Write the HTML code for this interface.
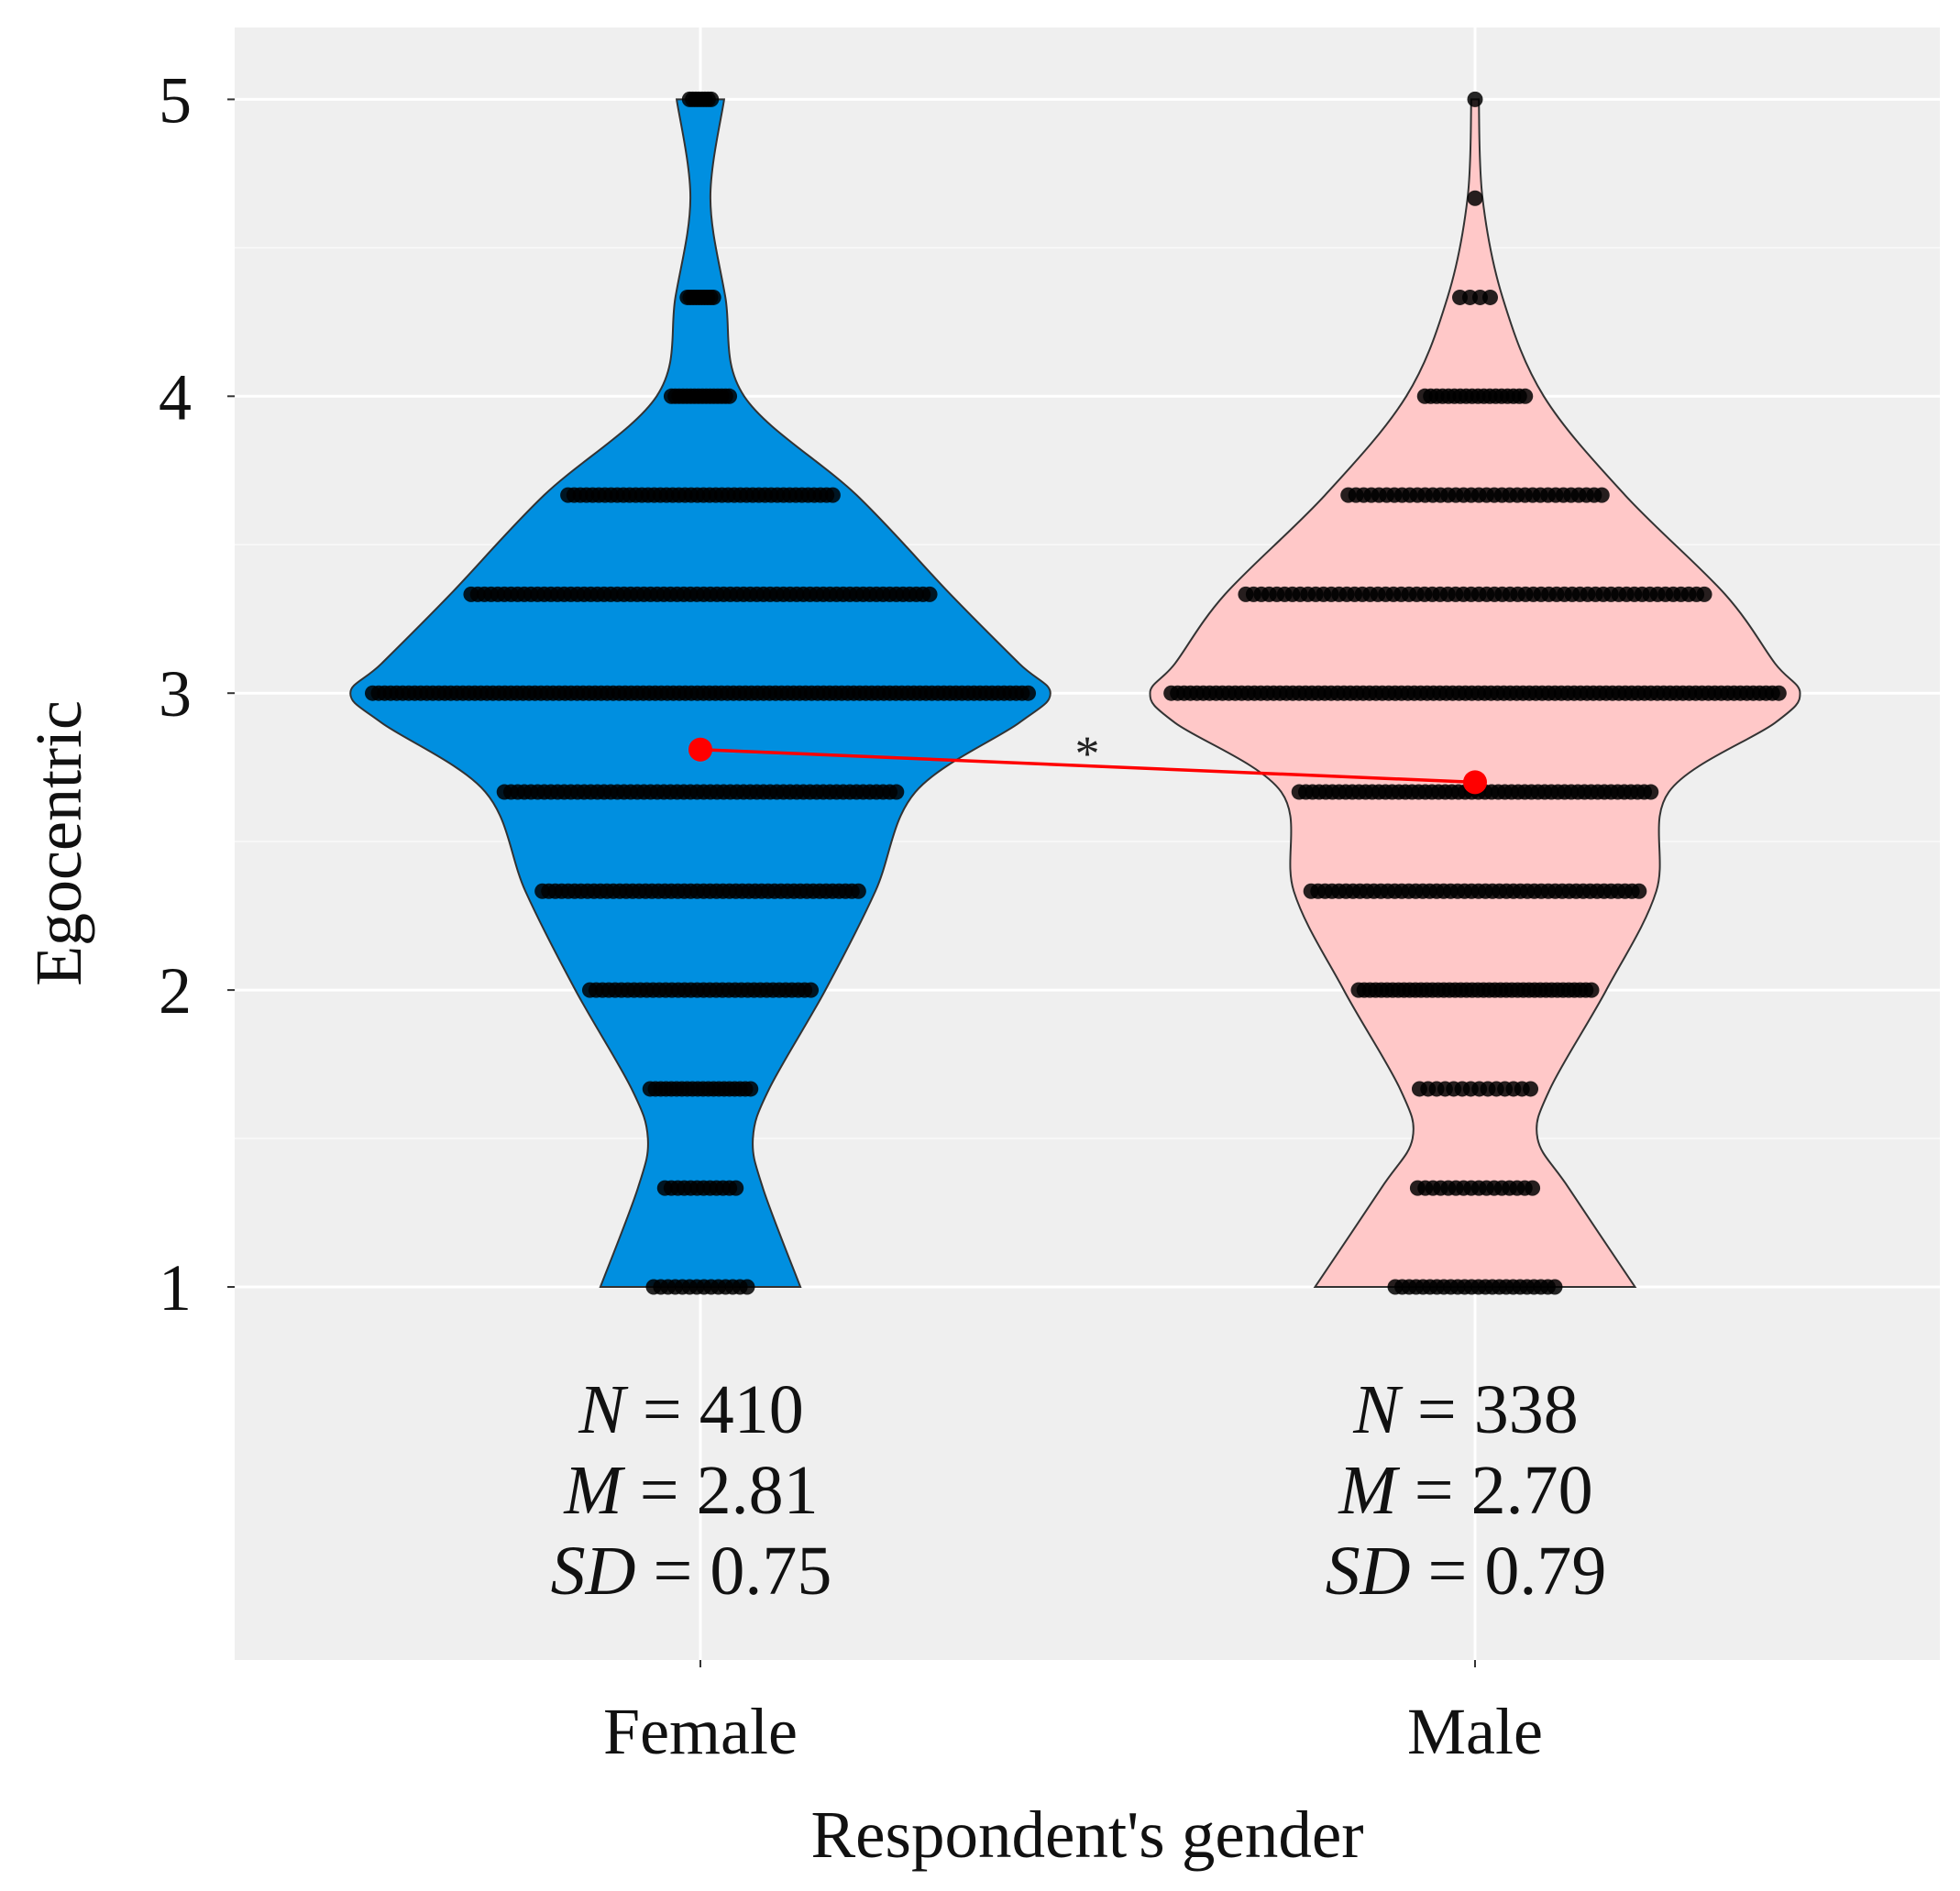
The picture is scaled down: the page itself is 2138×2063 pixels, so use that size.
<!DOCTYPE html>
<html><head><meta charset="utf-8"><style>
html,body{margin:0;padding:0;background:#fff;}
svg{display:block;font-family:"Liberation Serif",serif;}
</style></head><body>
<svg id="chart" width="2138" height="2063" viewBox="0 0 2138 2063">
<rect x="256" y="30" width="1860" height="1781" fill="#efefef"/>
<g id="grid"></g><g id="violins"></g><g id="dots"></g><g id="means"></g><g id="axes"></g>
</svg>
<script>
const categories = ["Female","Male"];
const levels = [1,1.333,1.5,1.667,2,2.333,2.667,2.9,3,3.1,3.333,3.667,4,4.333,4.667,5];
const femaleHalfWidth = [80,50,42,55,100,140,172,255,280,255,200,125,35,20,8,19];
const maleHalfWidth = [128,75,50,60,105,145,155,240,260,240,200,120,55,22,6,3];
const dotLevels = [1,1.333,1.667,2,2.333,2.667,3,3.333,3.667,4,4.333,4.667,5];
const femaleCounts = [14,12,20,36,50,60,110,70,44,16,10,0,8];
const maleCounts = [24,16,14,42,48,54,96,60,34,18,4,1,1];
const dotSpread = [0.55,0.7,0.85,0.95,0.95,0.95,0.96,0.95,0.9,0.85,0.85,0.5,0.8];
const meanValues = [2.81,2.70];
const statN = ["410","338"];
const statM = ["2.81","2.70"];
const statSD = ["0.75","0.79"];
const yTicks = [1,2,3,4,5];
const fills = ["#008fe0","#ffc8c8"];

const S = 1.3635;
const NS = "http://www.w3.org/2000/svg";
const yScale = v => 1404 - (v - 1) * 323.9;
const xScale = i => [764, 1609][i];
function mk(tag, attrs, parent){const e=document.createElementNS(NS,tag);for(const k in attrs)e.setAttribute(k,attrs[k]);document.getElementById(parent).appendChild(e);return e;}

for (let v = 1.5; v < 5; v += 1) {
  const l = mk("line",{x1:256,x2:2116,y1:yScale(v),y2:yScale(v),stroke:"#fafafa","stroke-width":1.5},"grid");
  
  
}
yTicks.forEach(v=>{
  const l = mk("line",{x1:256,x2:2116,y1:yScale(v),y2:yScale(v),stroke:"#fff","stroke-width":3},"grid");
  
  
});
categories.forEach((c,i)=>{
  const l = mk("line",{x1:xScale(i),x2:xScale(i),y1:30,y2:1811,stroke:"#fff","stroke-width":3},"grid");
  
  
});

function smoothPath(pts){
  let d = `M${pts[0][0]},${pts[0][1]}`;
  for (let i=0;i<pts.length-1;i++){
    const p0=pts[Math.max(0,i-1)],p1=pts[i],p2=pts[i+1],p3=pts[Math.min(pts.length-1,i+2)];
    const c1=[p1[0]+(p2[0]-p0[0])/6,p1[1]+(p2[1]-p0[1])/6];
    const c2=[p2[0]-(p3[0]-p1[0])/6,p2[1]-(p3[1]-p1[1])/6];
    d+=` C${c1[0]},${c1[1]} ${c2[0]},${c2[1]} ${p2[0]},${p2[1]}`;
  }
  return d;
}
[femaleHalfWidth, maleHalfWidth].forEach((hw,i)=>{
  const cx = xScale(i);
  const right = levels.map((v,k)=>[cx+hw[k]*S, yScale(v)]);
  const left = levels.map((v,k)=>[cx-hw[k]*S, yScale(v)]).reverse();
  const d = smoothPath(right) + ` L${left[0][0]},${left[0][1]} ` + smoothPath(left).replace(/^M[^C]*/,'') + " Z";
  const p = mk("path",{d:d,fill:fills[i],stroke:"#333","stroke-width":2},"violins");
  
  
});

function halfAt(hw, v){
  for (let k=0;k<levels.length-1;k++){
    if (v>=levels[k]-1e-6 && v<=levels[k+1]+1e-6){
      const t=(v-levels[k])/(levels[k+1]-levels[k]);
      return hw[k]+(hw[k+1]-hw[k])*t;
    }
  }
  return hw[hw.length-1];
}
[femaleCounts, maleCounts].forEach((counts,i)=>{
  const hw = i===0?femaleHalfWidth:maleHalfWidth;
  const cx = xScale(i);
  dotLevels.forEach((v,k)=>{
    const n = counts[k]; if(!n) return;
    const span = Math.max(6, halfAt(hw,v)*S*dotSpread[k] - 9);
    for (let j=0;j<n;j++){
      const x = n===1 ? cx : cx - span + 2*span*j/(n-1);
      const c = mk("circle",{cx:x,cy:yScale(v),r:8.5,fill:"#000","fill-opacity":0.85},"dots");
      
      
    }
  });
});

const ml = mk("line",{x1:xScale(0),y1:yScale(meanValues[0]),x2:xScale(1),y2:yScale(meanValues[1]),stroke:"#ff0000","stroke-width":3.5},"means");


meanValues.forEach((m,i)=>{
  const c = mk("circle",{cx:xScale(i),cy:yScale(m),r:13,fill:"#ff0000"},"means");
  
  
});
const ast = mk("text",{x:1186,y:840,"font-size":54,"text-anchor":"middle",fill:"#222"},"means");
ast.textContent="*";



yTicks.forEach(v=>{
  const t = mk("line",{x1:248,x2:256,y1:yScale(v),y2:yScale(v),stroke:"#333","stroke-width":2},"axes");
  
  
  const l = mk("text",{x:191,y:yScale(v)+25,"font-size":72,"text-anchor":"middle",fill:"#111"},"axes");
  l.textContent = v;
  
  
});
categories.forEach((c,i)=>{
  const t = mk("line",{x1:xScale(i),x2:xScale(i),y1:1811,y2:1819,stroke:"#333","stroke-width":2},"axes");
  
  
  const l = mk("text",{x:xScale(i),y:1913,"font-size":72,"text-anchor":"middle",fill:"#111"},"axes");
  l.textContent = c;
  
  
  const rows=[["N"," = "+statN[i]],["M"," = "+statM[i]],["SD"," = "+statSD[i]]];
  rows.forEach((r,k)=>{
    const tx = mk("text",{x:xScale(i)-10,y:1563+k*88,"font-size":76,"text-anchor":"middle",fill:"#111"},"axes");
    const a=document.createElementNS(NS,"tspan");a.setAttribute("font-style","italic");a.textContent=r[0];
    const b=document.createElementNS(NS,"tspan");b.textContent=r[1];
    tx.appendChild(a);tx.appendChild(b);
    
    
  });
});
const xt = mk("text",{x:1186,y:2026,"font-size":73,"text-anchor":"middle",fill:"#111"},"axes");
xt.textContent="Respondent's gender";


const yt = mk("text",{x:0,y:0,"font-size":72,"text-anchor":"middle",fill:"#111",transform:"translate(88,920) rotate(-90)"},"axes");
yt.textContent="Egocentric";


</script>
</body></html>
